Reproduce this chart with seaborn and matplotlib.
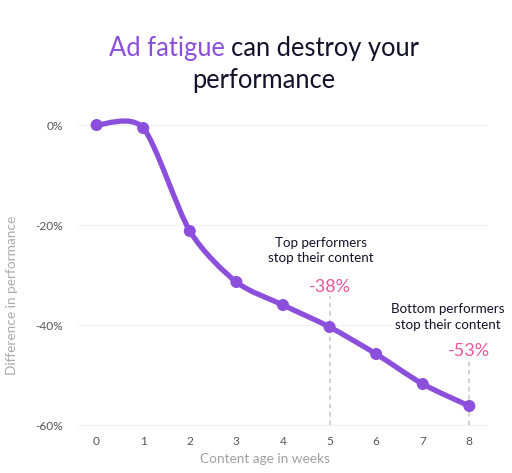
import numpy as np
import pandas as pd
import matplotlib
matplotlib.use("Agg")
import matplotlib.pyplot as plt
from matplotlib.path import Path
from matplotlib.patches import PathPatch
import seaborn as sns

weeks = [0, 1, 2, 3, 4, 5, 6, 7, 8]
performance = [0.0, -0.6, -21.2, -31.4, -36.0, -40.4, -45.8, -51.8, -56.2]
y_ticks = [0, -20, -40, -60]
y_tick_labels = ["0%", "-20%", "-40%", "-60%"]
annot_values = ["-38%", "-53%"]
annot_texts = ["Top performers\nstop their content", "Bottom performers\nstop their content"]

PURPLE = "#8b4fdc"
PINK = "#e9579e"
NAVY = "#12122a"

sns.set_theme(style="white")
plt.rcParams["font.family"] = ["Lato", "DejaVu Sans"]

df = pd.DataFrame({"week": weeks, "perf": performance})

fig = plt.figure(figsize=(5.12, 4.73), dpi=100)
ax = fig.add_axes([0.1523, 0.0951, 0.8008, 0.6617])

# smooth line (cardinal spline through data points)
k = 0.8
pts = np.column_stack([df["week"].to_numpy(float), df["perf"].to_numpy(float)])
ext = np.vstack([pts[0], pts, pts[-1]])
verts = [tuple(pts[0])]
codes = [Path.MOVETO]
for i in range(1, len(ext) - 2):
    p0, p1, p2, p3 = ext[i - 1], ext[i], ext[i + 1], ext[i + 2]
    c1 = p1 + k * (p2 - p0) / 6.0
    c2 = p2 - k * (p3 - p1) / 6.0
    verts += [tuple(c1), tuple(c2), tuple(p2)]
    codes += [Path.CURVE4] * 3
ax.add_patch(PathPatch(Path(verts, codes), facecolor="none", edgecolor=PURPLE,
                       lw=3.8, capstyle="round", joinstyle="round", zorder=3))

sns.scatterplot(data=df, x="week", y="perf", ax=ax, color=PURPLE, s=75,
                edgecolor="none", zorder=4, legend=False)

ax.set_xlim(-0.4, 8.4)
ax.set_ylim(-60.6, 2)
ax.set_yticks(y_ticks)
ax.set_yticklabels(y_tick_labels)
ax.set_xticks(weeks)
ax.tick_params(axis="both", length=0, labelsize=8.6, colors="#555555")
ax.tick_params(axis="y", pad=11)
ax.tick_params(axis="x", pad=6)
ax.grid(axis="y", color="#f1f1f1", lw=0.8)
ax.set_axisbelow(True)
for s in ax.spines.values():
    s.set_visible(False)
ax.set_xlabel("Content age in weeks", color="#a0a0a0", fontsize=9.8)
ax.set_ylabel("Difference in performance", color="#aaaaaa", fontsize=9.8)
ax.xaxis.set_label_coords((265 - 78) / 410, (428 - 453) / 313)
ax.yaxis.set_label_coords((18 - 78) / 410, (428 - 295) / 313)

# dashed markers and annotations
ax.plot([5, 5], [-60, -34.2], ls=(0, (3, 2.5)), color="#c6c6c6", lw=1.1, zorder=1)
ax.plot([8, 8], [-60, -47.0], ls=(0, (3, 2.5)), color="#c6c6c6", lw=1.1, zorder=1)

ax.text(5, -32.4, annot_values[0], ha="center", va="center", color=PINK, fontsize=13)
ax.text(4.82, -25.1, annot_texts[0], ha="center", va="center", color=NAVY,
        fontsize=9.6, linespacing=1.35)
ax.text(8, -45.2, annot_values[1], ha="center", va="center", color=PINK, fontsize=13)
ax.text(7.53, -38.4, annot_texts[1], ha="center", va="center", color=NAVY,
        fontsize=9.6, linespacing=1.35)

# title with coloured first words
fig.canvas.draw()
r = fig.canvas.get_renderer()
t1 = fig.text(0, 0, "Ad fatigue ", fontsize=18.4, color=PURPLE, va="baseline")
t2 = fig.text(0, 0, "can destroy your", fontsize=18.4, color=NAVY, va="baseline")
w1 = t1.get_window_extent(r).width
w2 = t2.get_window_extent(r).width
W = fig.bbox.width
cx = 264.0
base1 = 1 - 56.0 / 473
x0 = (cx - (w1 + w2) / 2) / W
t1.set_position((x0, base1))
t2.set_position((x0 + w1 / W, base1))
fig.text(cx / W, 1 - 88.0 / 473, "performance", fontsize=18.4, color=NAVY,
         ha="center", va="baseline")

fig.savefig("out.png", dpi=100, facecolor="white")
